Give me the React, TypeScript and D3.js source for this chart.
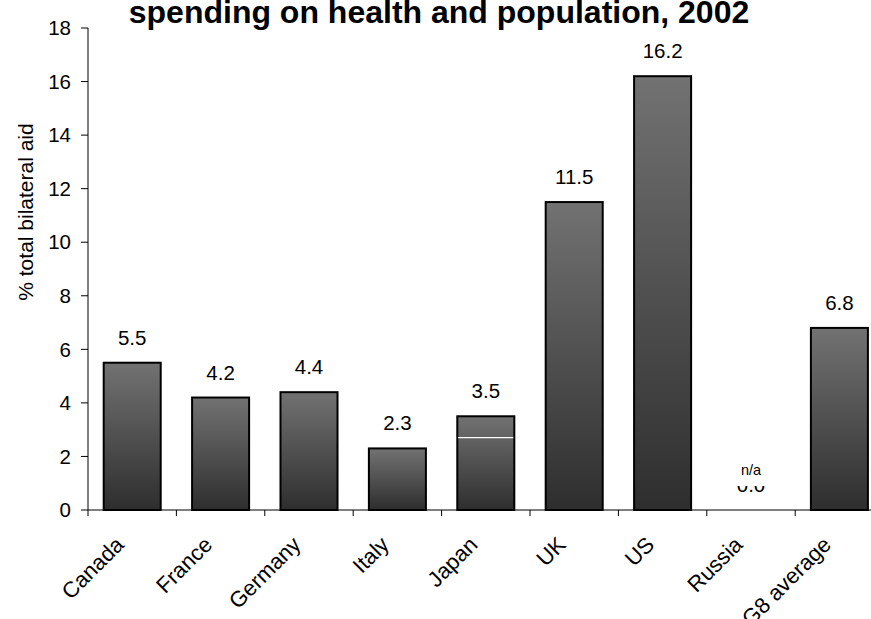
import React from "react";
import * as d3 from "d3";

const categories = ["Canada", "France", "Germany", "Italy", "Japan", "UK", "US", "Russia", "G8 average"];
const values = [5.5, 4.2, 4.4, 2.3, 3.5, 11.5, 16.2, 0, 6.8];
const yTicks = [0, 2, 4, 6, 8, 10, 12, 14, 16, 18];
const titleText = "spending on health and population, 2002";
const yLabel = "% total bilateral aid";
const japanMarker = 2.7;

const W = 871, H = 619;
const left = 88, step = 88.4;
const x = d3.scaleBand<string>().domain(categories).range([left, left + step * categories.length]).paddingInner(0.355).paddingOuter(0.1775);
const y = d3.scaleLinear().domain([0, 18]).range([510, 28]);
const font = "Arial, 'Liberation Sans', sans-serif";

export default function App() {
  const bw = x.bandwidth();
  return (
    <svg width={W} height={H} style={{ position: "absolute", left: 0, top: 0, background: "#fff" }} fontFamily={font}>
      <defs>
        <linearGradient id="barg" x1="0" y1="0" x2="0" y2="1">
          <stop offset="0" stopColor="#727272" />
          <stop offset="1" stopColor="#2e2e2e" />
        </linearGradient>
      </defs>
      <text x={439} y={23} textAnchor="middle" fontSize={32} fontWeight="bold">{titleText}</text>
      <text transform={`translate(33,212) rotate(-90)`} textAnchor="middle" fontSize={21}>{yLabel}</text>
      {/* y axis */}
      <line x1={left} x2={left} y1={y(18)} y2={y(0)} stroke="#000" strokeWidth={1} />
      {yTicks.map((t) => (
        <g key={t}>
          <line x1={left - 7} x2={left} y1={y(t)} y2={y(t)} stroke="#000" />
          <text x={71} y={y(t)} dy="0.35em" textAnchor="end" fontSize={20.5}>{t}</text>
        </g>
      ))}
      {/* bars */}
      {categories.map((c, i) => {
        const v = values[i];
        const bx = x(c)!;
        const cx = bx + bw / 2;
        return (
          <g key={c}>
            {v > 0 && (
              <rect x={bx} y={y(v)} width={bw} height={y(0) - y(v)} fill="url(#barg)" stroke="#000" strokeWidth={2} />
            )}
            <text x={cx} y={y(v) - 18} textAnchor="middle" fontSize={20.5}>{v.toFixed(1)}</text>
            {c === "Russia" && (
              <>
                <rect x={cx - 18} y={y(v) - 52} width={36} height={28} fill="#fff" />
                <text x={cx} y={y(v) - 35} textAnchor="middle" fontSize={14.5}>n/a</text>
              </>
            )}
            {c === "Japan" && (
              <line x1={bx + 1} x2={bx + bw - 1} y1={y(japanMarker)} y2={y(japanMarker)} stroke="#fff" strokeWidth={1.2} />
            )}
          </g>
        );
      })}
      {/* x axis */}
      <line x1={left} x2={W} y1={y(0)} y2={y(0)} stroke="#000" />
      {categories.map((c, i) => (
        <line key={"t" + c} x1={left + i * step} x2={left + i * step} y1={y(0)} y2={y(0) + 6} stroke="#000" />
      ))}
      {categories.map((c) => {
        const cx = x(c)! + bw / 2;
        return (
          <text key={"l" + c} transform={`translate(${cx - 7},${y(0) + 36}) rotate(-45)`} textAnchor="end" fontSize={22}>{c}</text>
        );
      })}
    </svg>
  );
}
